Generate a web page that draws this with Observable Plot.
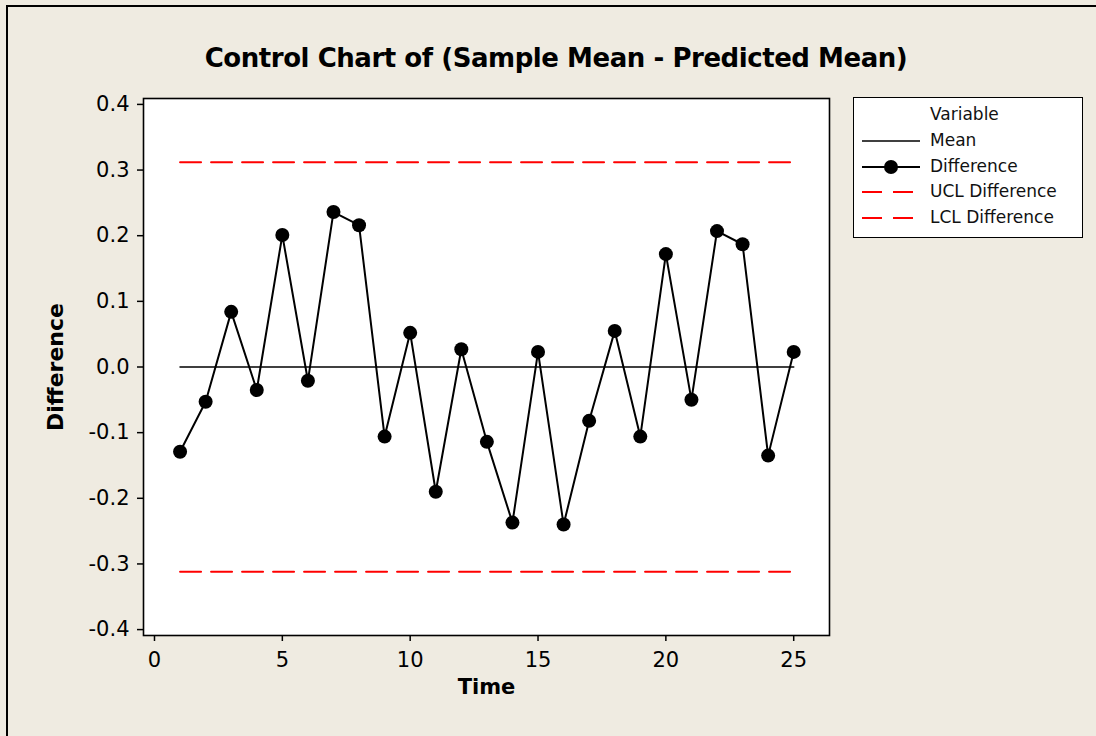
<!DOCTYPE html>
<html>
<head>
<meta charset="utf-8">
<script src="https://cdn.jsdelivr.net/npm/d3@7"></script>
<script src="https://cdn.jsdelivr.net/npm/@observablehq/plot@0.6"></script>
<style>
  html, body { margin: 0; padding: 0; overflow: hidden; background: #efebe1; }
  #page { position: relative; width: 1096px; height: 736px; background: #efebe1; overflow: hidden; font-family: "DejaVu Sans", sans-serif; }
  #border { position: absolute; left: 6px; top: 5px; width: 1300px; height: 900px; border-left: 2px solid #000; border-top: 2px solid #000; }
  #title { position: absolute; left: 0; width: 1112px; top: 38px; text-align: center; font-weight: bold; font-size: 26px; letter-spacing: -0.45px; line-height: 40px; color: #000; white-space: nowrap; }
  #chart { position: absolute; left: 0; top: 80px; }
  #legend { position: absolute; left: 853px; top: 97px; width: 230px; height: 141px; background: #fff; border: 1.5px solid #000; box-sizing: border-box; font-size: 17px; color: #111; }
  .row { position: absolute; left: 0; height: 24px; width: 228px; }
  .row svg { position: absolute; left: 8px; top: 0; }
  .row span { position: absolute; left: 76px; top: 1px; white-space: nowrap; }
</style>
</head>
<body>
<div id="page">
  <div id="border"></div>
  <div id="title">Control Chart of (Sample Mean - Predicted Mean)</div>
  <div id="chart"></div>
  <div id="legend"></div>
</div>
<script>
// ---- data ----
const time = [1,2,3,4,5,6,7,8,9,10,11,12,13,14,15,16,17,18,19,20,21,22,23,24,25];
const difference = [-0.129,-0.053,0.084,-0.035,0.201,-0.021,0.236,0.216,-0.106,0.052,-0.190,0.027,-0.114,-0.237,0.023,-0.240,-0.082,0.055,-0.106,0.172,-0.050,0.207,0.187,-0.135,0.023];
const meanValue = 0.0;
const uclValue = 0.312;
const lclValue = -0.312;
const xTicks = [0,5,10,15,20,25];
const yTicks = [-0.4,-0.3,-0.2,-0.1,0.0,0.1,0.2,0.3,0.4];
const legendLabels = ["Mean","Difference","UCL Difference","LCL Difference"];

const rows = time.map((t,i) => ({t, d: difference[i]}));
const tFirst = time[0], tLast = time[time.length-1];
const limitLines = (v) => [{t: tFirst, v}, {t: tLast, v}];

const fmt = d => (Math.abs(d) < 1e-9 ? "0.0" : d.toFixed(1));

const chart = Plot.plot({
  width: 860,
  height: 627,
  marginLeft: 143,
  marginRight: 31,
  marginTop: 18,
  marginBottom: 72,
  style: { fontSize: "20px", fontFamily: "DejaVu Sans, sans-serif", color: "#000", background: "transparent", overflow: "visible" },
  x: { domain: [-0.43, 26.4] },
  y: { domain: [-0.409, 0.409] },
  marks: [
    Plot.frame({ fill: "#fff", stroke: null }),
    Plot.line(limitLines(uclValue), { x: "t", y: "v", stroke: "#f00", strokeWidth: 2, strokeDasharray: "21,10" }),
    Plot.line(limitLines(lclValue), { x: "t", y: "v", stroke: "#f00", strokeWidth: 2, strokeDasharray: "21,10" }),
    Plot.line(limitLines(meanValue), { x: "t", y: "v", stroke: "#000", strokeWidth: 1.6 }),
    Plot.line(rows, { x: "t", y: "d", stroke: "#000", strokeWidth: 2 }),
    Plot.dot(rows, { x: "t", y: "d", r: 7, fill: "#000", stroke: null }),
    Plot.frame({ stroke: "#000", strokeWidth: 1.6 }),
    Plot.axisX({ ticks: xTicks, tickSize: 6, tickPadding: 11, tickFormat: d => String(d), label: null, strokeWidth: 1.5, fontSize: 21, fill: "#000" }),
    Plot.axisY({ ticks: yTicks, tickSize: 6, tickPadding: 8, tickFormat: fmt, label: null, strokeWidth: 1.5, fontSize: 21, fill: "#000" }),
    Plot.text(["Time"], { frameAnchor: "bottom", dy: 58, fontWeight: "bold", fontSize: 21, fill: "#000", textAnchor: "middle" }),
    Plot.text(["Difference"], { frameAnchor: "left", dx: -88, rotate: -90, fontWeight: "bold", fontSize: 22, fill: "#000", textAnchor: "middle" })
  ]
});
document.getElementById("chart").appendChild(chart);

// ---- legend ----
const legend = document.getElementById("legend");
const head = document.createElement("div");
head.className = "row"; head.style.top = "5px";
head.innerHTML = '<span>Variable</span>';
legend.appendChild(head);
const symbols = [
  '<line x1="0" x2="58" y1="12" y2="12" stroke="#000" stroke-width="1.6"/>',
  '<line x1="0" x2="58" y1="12" y2="12" stroke="#000" stroke-width="2"/><circle cx="29" cy="12" r="7" fill="#000"/>',
  '<line x1="0" x2="58" y1="12" y2="12" stroke="#f00" stroke-width="2" stroke-dasharray="20,11"/>',
  '<line x1="0" x2="58" y1="12" y2="12" stroke="#f00" stroke-width="2" stroke-dasharray="20,11"/>'
];
legendLabels.forEach((lab, i) => {
  const r = document.createElement("div");
  r.className = "row"; r.style.top = (31 + i * 25.7) + "px";
  r.innerHTML = '<svg width="62" height="24">' + symbols[i] + '</svg><span>' + lab + '</span>';
  legend.appendChild(r);
});
</script>
</body>
</html>
